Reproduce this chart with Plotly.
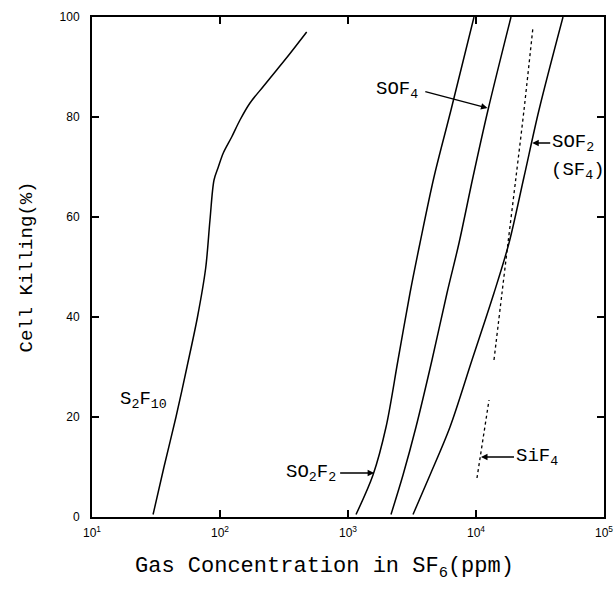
import math
import plotly.graph_objects as go

# ---- data ----
s2f10_x = [30.0, 36.5, 45.3, 55.2, 66.7, 77.3, 83.5, 89.8, 97.0, 106.1, 123.4, 143.3, 171.5, 217.8, 277.3, 352.4, 475.5]
s2f10_y = [0.5, 10, 20, 30, 40, 49.8, 59.4, 67.4, 70, 72.8, 76, 79.4, 82.8, 86.1, 89.4, 92.7, 97]

so2f2_x = [1155, 1568, 1982, 2459, 3051, 3652, 4698, 6378, 9647]
so2f2_y = [0.5, 8.4, 18, 31.4, 44.8, 54.8, 68, 81.4, 100]

sof4_x = [2167, 2690, 3398, 4532, 5936, 7368, 9475, 12410, 18770]
sof4_y = [0.5, 8.4, 18, 31.4, 44.8, 54.8, 68, 81.4, 100]

sof2_x = [3220, 4373, 6266, 9306, 13820, 18110, 23710, 31060, 47830]
sof2_y = [0.5, 8.4, 18, 31.4, 44.8, 54.8, 68, 81.4, 100]

sf4_x = [13820, 15960, 17780, 20540, 23710, 27880]
sf4_y = [31.4, 44.8, 54.8, 68, 81.4, 98]

sif4_x = [10180, 12640]
sif4_y = [7.8, 23.4]

xtick_vals = [10, 100, 1000, 10000, 100000]
xtick_text = ["10<sup>1</sup>", "10<sup>2</sup>", "10<sup>3</sup>", "10<sup>4</sup>", "10<sup>5</sup>"]
ytick_vals = [0, 20, 40, 60, 80, 100]

fig = go.Figure()
for xs, ys, nm in [(s2f10_x, s2f10_y, "S2F10"), (so2f2_x, so2f2_y, "SO2F2"),
                   (sof4_x, sof4_y, "SOF4"), (sof2_x, sof2_y, "SOF2")]:
    fig.add_trace(go.Scatter(x=xs, y=ys, mode="lines", name=nm,
                             line=dict(color="black", width=1.5, shape="spline", smoothing=0.9)))
for xs, ys, nm in [(sf4_x, sf4_y, "SF4"), (sif4_x, sif4_y, "SiF4")]:
    fig.add_trace(go.Scatter(x=xs, y=ys, mode="lines", name=nm,
                             line=dict(color="black", width=1.3, dash="dot", shape="spline", smoothing=0.9)))

lab_font = dict(family="Liberation Mono", size=19, color="black")

def ann(text, x, y, ax=0, ay=0, arrow=False, **kw):
    fig.add_annotation(x=math.log10(x), y=y, text=text, showarrow=arrow, ax=ax, ay=ay,
                       arrowhead=2, arrowsize=1, arrowwidth=1.3, arrowcolor="black",
                       font=lab_font, **kw)

ann("SOF<sub>4</sub>", 12300, 81.8, ax=-68, ay=-18, arrow=True, startstandoff=6,
    xanchor="right", yanchor="middle")
ann("SOF<sub>2</sub>", 27500, 74.8, ax=18, ay=0, arrow=True, xanchor="left", yanchor="middle")
fig.add_annotation(x=math.log10(27500), y=69.3, text="(SF<sub>4</sub>)", showarrow=False,
                   xanchor="left", yanchor="middle", xshift=17, font=lab_font)
ann("S<sub>2</sub>F<sub>10</sub>", 10**1.40, 23.4, xanchor="center", yanchor="middle")
ann("SO<sub>2</sub>F<sub>2</sub>", 1600, 8.8, ax=-36, ay=0, arrow=True, startstandoff=2,
    xanchor="right", yanchor="middle")
ann("SiF<sub>4</sub>", 10940, 12, ax=33, ay=0, arrow=True, xanchor="left", yanchor="middle")

# x-axis title (placed as in the reference, left of the axis centre)
fig.add_annotation(xref="paper", yref="paper", x=0.455, y=0, yshift=-51,
                   text="Gas Concentration in SF<sub>6</sub>(ppm)", showarrow=False,
                   xanchor="center", yanchor="middle",
                   font=dict(family="Liberation Mono", size=22, color="black"))

axis_common = dict(showline=True, linecolor="black", linewidth=2, mirror="ticks",
                   ticks="inside", ticklen=7, tickcolor="black", tickwidth=1.5,
                   showgrid=False, zeroline=False, automargin=False,
                   tickfont=dict(family="Liberation Sans", size=12, color="black"))

fig.update_layout(
    width=616, height=591,
    margin=dict(l=92, r=12, t=17, b=74),
    paper_bgcolor="white", plot_bgcolor="white",
    showlegend=False,
    xaxis=dict(type="log", range=[1, 5], tickvals=xtick_vals, ticktext=xtick_text,
               ticklabelstandoff=4, ticklabeloverflow="allow", **axis_common),
    yaxis=dict(range=[0, 100], tickvals=ytick_vals, ticklabelstandoff=8,
               title=dict(text="Cell Killing(%)", standoff=22,
                          font=dict(family="Liberation Mono", size=19, color="black")),
               **axis_common),
)

# remove the default page margin so the figure fills the window exactly
fig.write_html("out.html", config={"displayModeBar": False},
               post_script="document.body.style.margin='0';document.body.style.overflow='hidden';")
